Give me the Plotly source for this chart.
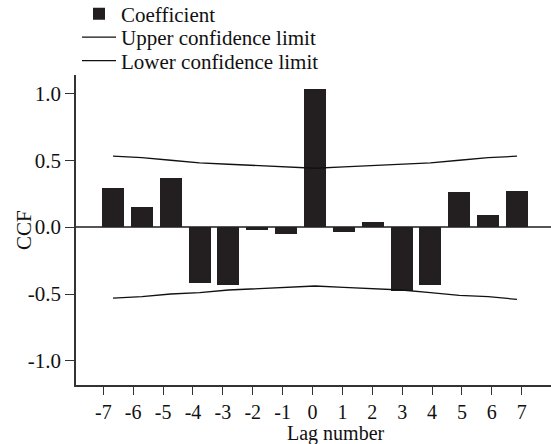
import plotly.graph_objects as go

lags = [-7, -6, -5, -4, -3, -2, -1, 0, 1, 2, 3, 4, 5, 6, 7]
coefficient = [0.29, 0.15, 0.37, -0.42, -0.43, -0.02, -0.05, 1.03, -0.04, 0.04, -0.48, -0.43, 0.26, 0.09, 0.27]
upper_limit = [0.53, 0.52, 0.50, 0.48, 0.47, 0.46, 0.45, 0.44, 0.45, 0.46, 0.47, 0.48, 0.50, 0.52, 0.53]
lower_limit = [-0.53, -0.52, -0.50, -0.49, -0.47, -0.46, -0.45, -0.44, -0.45, -0.46, -0.47, -0.49, -0.51, -0.52, -0.54]
tick_labels = [str(v) for v in lags]
y_ticks = [1.0, 0.5, 0.0, -0.5, -1.0]
y_tick_labels = ["1.0", "0.5", "0.0", "-0.5", "-1.0"]

FONT = "Liberation Serif"
FS = 21
W, H = 551, 444
ML, MR, MT, MB = 76, 0, 75, 59
PW = W - ML - MR
PH = H - MT - MB

fig = go.Figure()
fig.add_trace(go.Bar(x=lags, y=coefficient, name="Coefficient", xaxis="x2", legend="legend",
                     marker=dict(color="#231f20", line=dict(width=0)), width=0.76))
fig.add_trace(go.Scatter(x=lags, y=upper_limit, name="Upper confidence limit", xaxis="x2",
                         legend="legend2", mode="lines", line=dict(color="#111111", width=1.3)))
fig.add_trace(go.Scatter(x=lags, y=lower_limit, name="Lower confidence limit", xaxis="x2",
                         legend="legend3", mode="lines", line=dict(color="#111111", width=1.3)))
# invisible trace to activate visible x axis
fig.add_trace(go.Scatter(x=[lags[0], lags[-1]], y=[None, None], xaxis="x", showlegend=False,
                         hoverinfo="skip", mode="markers"))

def px(p):
    return (p - ML) / PW

def py(p):
    return (H - MB - p) / PH

def leg(row_y):
    return dict(x=px(77), xanchor="left", y=py(row_y), yanchor="middle",
                xref="paper", yref="paper",
                font=dict(family=FONT, size=FS, color="#111111"),
                bgcolor="rgba(0,0,0,0)", itemwidth=34)

fig.update_layout(
    width=W, height=H,
    margin=dict(l=ML, r=MR, t=MT, b=MB, autoexpand=False),
    paper_bgcolor="white", plot_bgcolor="white",
    font=dict(family=FONT, size=FS, color="#111111"),
    showlegend=True,
    legend=leg(14),
    legend2=leg(37.5),
    legend3=leg(61),
    bargap=0,
    xaxis=dict(range=[-7.914, 7.98], tickmode="array", tickvals=lags, ticktext=tick_labels,
               showgrid=False, zeroline=False, showline=True, linecolor="#333333", linewidth=1.5,
               ticks="outside", ticklen=8, tickwidth=1.3, tickcolor="#333333",
               tickfont=dict(family=FONT, size=20, color="#111111"), fixedrange=True),
    xaxis2=dict(range=[-8.282, 8.178], overlaying="x", visible=False, showgrid=False, zeroline=False),
    yaxis=dict(range=[-1.18, 1.137], tickmode="array", tickvals=y_ticks, ticktext=y_tick_labels,
               showgrid=False, zeroline=True, zerolinecolor="#555555", zerolinewidth=1.5,
               showline=True, linecolor="#333333", linewidth=1.5,
               ticks="outside", ticklen=9, tickwidth=1.3, tickcolor="#333333",
               tickfont=dict(family=FONT, size=FS, color="#111111")),
    annotations=[
        dict(text="CCF", xref="paper", yref="paper", x=px(24), y=py(230),
             textangle=-90, showarrow=False, xanchor="center", yanchor="middle",
             font=dict(family=FONT, size=FS, color="#111111")),
        dict(text="Lag number", xref="paper", yref="paper", x=px(336), y=py(447),
             showarrow=False, xanchor="center", yanchor="bottom",
             font=dict(family=FONT, size=20, color="#111111")),
    ],
)

fig.write_html("out.html")
